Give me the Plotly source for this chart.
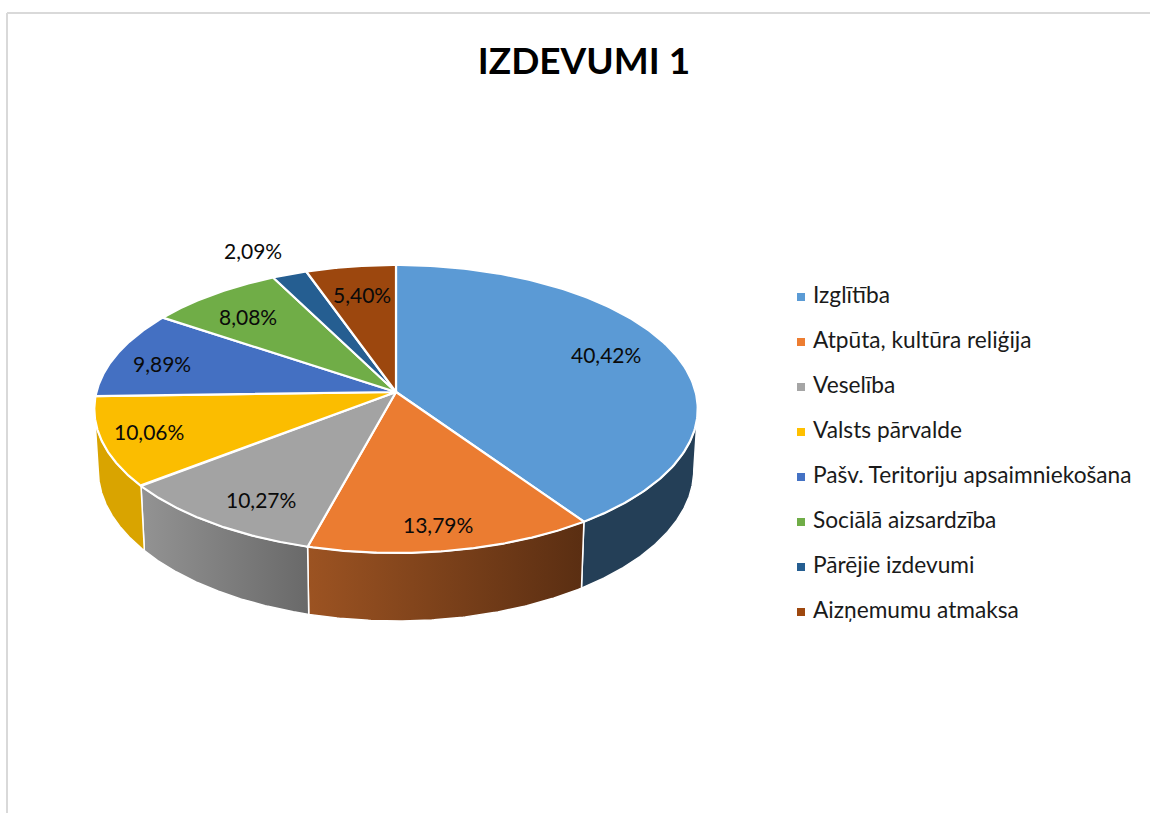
import numpy as np
import plotly.graph_objects as go

# ---- data ----
categories = ["Izglītība", "Atpūta, kultūra reliģija", "Veselība", "Valsts pārvalde",
              "Pašv. Teritoriju apsaimniekošana", "Sociālā aizsardzība",
              "Pārējie izdevumi", "Aizņemumu atmaksa"]
values = [40.42, 13.79, 10.27, 10.06, 9.89, 8.08, 2.09, 5.40]
title_text = "IZDEVUMI 1"

# ---- style ----
top_colors = ["#5B9AD5", "#EB7C31", "#A3A3A3", "#FBBD00", "#4470C2", "#70AD47", "#255E91", "#9C470E"]
label_colors = ["#5B9BD5", "#ED7D31", "#A5A5A5", "#FFC000", "#4472C4", "#70AD47", "#255E91", "#9E480E"]
wall_gradients = {0: ("#243F57", "#243F57"), 1: ("#9C5322", "#5A2E12"),
                  2: ("#939393", "#696969"), 3: ("#D9A400", "#D9A400")}
label_nudges = [(1, -7), (1, 17), (-1, 12), (-29, 2), (-23, 0), (-8, -1), (-61, -51), (1, -1)]
FONT = "Lato"

# ---- pie geometry (perspective-projected disc, in paper pixels) ----
CX, CY, A, B, K = 396.0, 392.0, 299.6, 142.0, 0.118
DEPTH, BOTTOM_SCALE = 60.0, 0.987
SIL_L, SIL_R = 96.8, 263.2  # visible wall silhouette angles


def project(theta_deg, r=1.0, bottom=False):
    t = np.radians(theta_deg)
    x, y = r * np.sin(t), r * np.cos(t)
    w = 1 + K * y
    px, py = A * x / w, B * y / w
    if bottom:
        return CX + BOTTOM_SCALE * px, CY - py + DEPTH / w
    return CX + px, CY - py


edges = np.concatenate([[0], np.cumsum(values)]) / np.sum(values) * 360
fig = go.Figure()

# side walls
for i, (a0, a1) in enumerate(zip(edges[:-1], edges[1:])):
    lo, hi = max(a0, SIL_L), min(a1, SIL_R)
    if lo >= hi:
        continue
    th = np.linspace(lo, hi, 120)
    tx, ty = project(th)
    bx, by = project(th[::-1], bottom=True)
    xs = np.concatenate([tx, bx, tx[:1]])
    ys = np.concatenate([ty, by, ty[:1]])
    c0, c1 = wall_gradients[i]
    fig.add_trace(go.Scatter(
        x=xs, y=ys, mode="lines", fill="toself", line=dict(color="white", width=1.5),
        fillgradient=dict(type="horizontal", colorscale=[[0, c0], [1, c1]],
                          start=float(xs.min()), stop=float(xs.max())),
        hoverinfo="skip", showlegend=False))

# top face
for i, (a0, a1) in enumerate(zip(edges[:-1], edges[1:])):
    th = np.linspace(a0, a1, 160)
    ax, ay = project(th)
    xs = np.concatenate([[CX], ax, [CX]])
    ys = np.concatenate([[CY], ay, [CY]])
    fig.add_trace(go.Scatter(
        x=xs, y=ys, mode="lines", fill="toself", fillcolor=top_colors[i],
        line=dict(color="white", width=2.2), name=categories[i],
        hoverinfo="name", showlegend=False))

# data labels
for i, (a0, a1) in enumerate(zip(edges[:-1], edges[1:])):
    lx, ly = project((a0 + a1) / 2, 0.75)
    dx, dy = label_nudges[i]
    fig.add_annotation(x=float(lx), y=float(ly), xshift=dx, yshift=-dy,
                       text=f"{values[i]:.2f}%".replace(".", ","), showarrow=False,
                       font=dict(family=FONT, size=21, color="#0A0A0A"))

# legend column
LEG_X, LEG_TX, LEG_Y0, LEG_DY = 801, 813, 297, 45
leg_y = [LEG_Y0 + LEG_DY * i for i in range(len(categories))]
fig.add_trace(go.Scatter(
    x=[LEG_X] * len(categories), y=leg_y, mode="markers",
    marker=dict(symbol="square", size=8, color=label_colors), hoverinfo="skip", showlegend=False))
fig.add_trace(go.Scatter(
    x=[LEG_TX] * len(categories), y=leg_y, mode="text", text=categories,
    textposition="middle right",
    textfont=dict(family=FONT, size=22.7, color="#1A1A1A"), hoverinfo="skip", showlegend=False))

# chart frame
frame = dict(type="line", xref="x", yref="y", line=dict(color="#D9D9D9", width=2))
fig.add_shape(x0=7, x1=1150, y0=13, y1=13, **frame)
fig.add_shape(x0=7, x1=7, y0=13, y1=813, **frame)

fig.update_layout(
    width=1150, height=813, margin=dict(l=0, r=0, t=0, b=0),
    paper_bgcolor="white", plot_bgcolor="white",
    title=dict(text=f"<b>{title_text}</b>", x=584 / 1150, xanchor="center",
               y=1 - 61 / 813, yanchor="middle", font=dict(family=FONT, size=37, color="black")),
    xaxis=dict(range=[0, 1150], visible=False, fixedrange=True),
    yaxis=dict(range=[813, 0], visible=False, fixedrange=True),
    showlegend=False,
)

fig.write_html("out.html", config={"displayModeBar": False},
               post_script="document.body.style.margin='0';")
